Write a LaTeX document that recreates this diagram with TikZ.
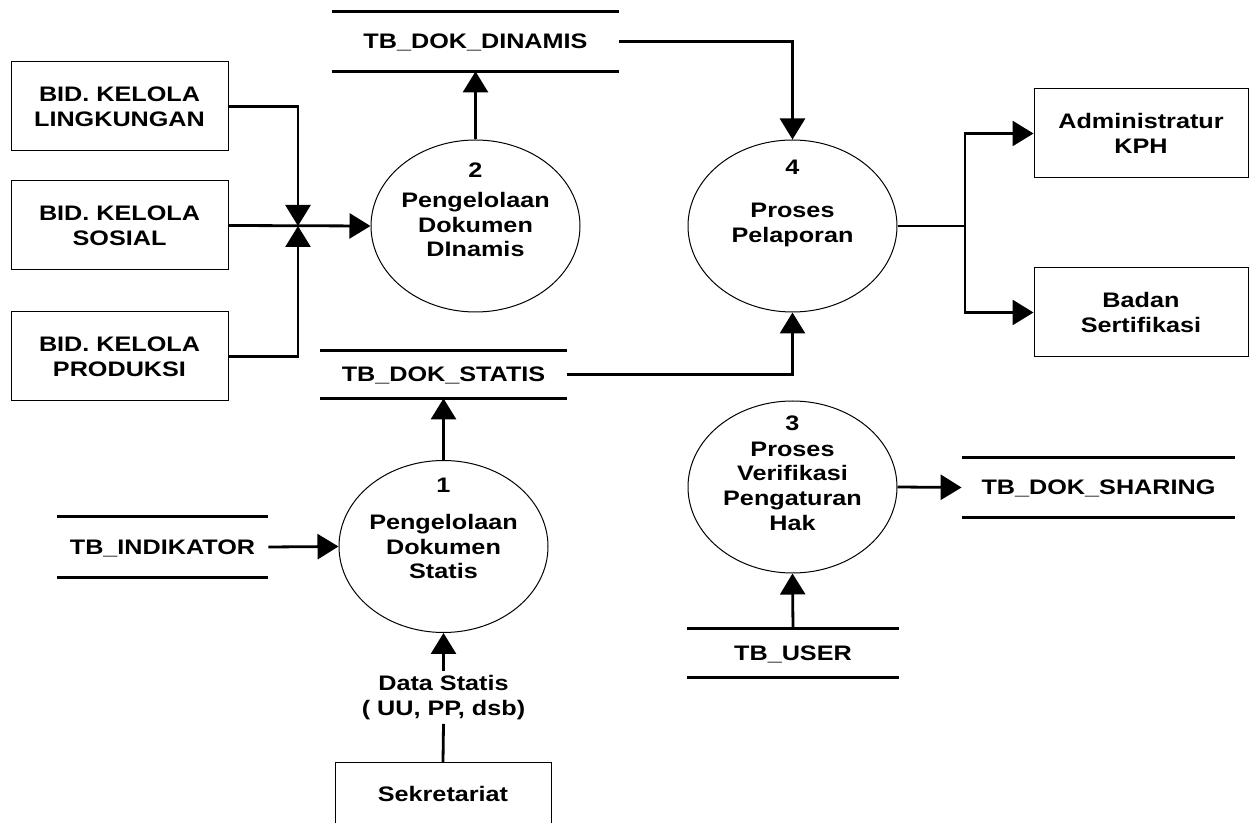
\documentclass[tikz,border=0pt]{standalone}
\usepackage{fontspec}
\setmainfont{Liberation Sans}[FakeStretch=1.2]
\usetikzlibrary{shapes.geometric,arrows.meta}
\begin{document}
\begin{tikzpicture}[x=0.5pt,y=-0.5pt,
  txt/.style={font=\fontsize{10.5}{12.3}\selectfont\bfseries, align=center, inner sep=0pt},
  ent/.style={txt, draw, line width=0.5pt, minimum width=108.5pt, minimum height=44.5pt},
  proc/.style={ellipse, draw, line width=0.5pt, minimum width=104.5pt, minimum height=86pt, inner sep=0pt},
  datastore/.style={txt, text depth=0pt},
  flow/.style={line width=1.4pt, -{Triangle[length=10.5pt,width=12.5pt]}},
  plainflow/.style={line width=1.4pt},
  sline/.style={line width=1.2pt}]
\useasboundingbox (0,0) rectangle (1250,823);

% external entities
\node[ent] (bl) at (119.5,106.5) {BID. KELOLA\\LINGKUNGAN};
\node[ent] (bs) at (119.5,225.5) {BID. KELOLA\\SOSIAL};
\node[ent] (bp) at (119.5,356.5) {BID. KELOLA\\PRODUKSI};
\node[ent, minimum width=107pt] (adm) at (1141,133.5) {Administratur\\KPH};
\node[ent, minimum width=107pt] (bad) at (1141,312.5) {Badan\\Sertifikasi};
\node[ent, minimum width=108pt, minimum height=31pt] (sek) at (443,793.5) {Sekretariat};

% processes
\node[proc] (c2) at (475.5,226) {};
\node[proc] (c4) at (792.5,226) {};
\node[proc] (c1) at (443.5,546.5) {};
\node[proc] (c3) at (792.5,487) {};
\node[txt] (n2) at (475.5,170) {2};
\node[txt] (l2) at (475.5,224.5) {Pengelolaan\\Dokumen\\DInamis};
\node[txt] (n4) at (792.5,167) {4};
\node[txt] (l4) at (792.5,225) {Proses\\Pelaporan};
\node[txt] (n1) at (443.5,485) {1};
\node[txt] (l1) at (443.5,546.5) {Pengelolaan\\Dokumen\\Statis};
\node[txt] (n3) at (792.5,423) {3};
\node[txt] (l3) at (792.5,486) {Proses\\Verifikasi\\Pengaturan\\Hak};

% data stores
\node[datastore, minimum width=143.5pt, minimum height=29.5pt] (dd) at (475.5,41.5) {TB\_DOK\_DINAMIS};
\node[datastore, minimum width=123.5pt, minimum height=23.5pt] (ds) at (443.5,374.5) {TB\_DOK\_STATIS};
\node[datastore, minimum width=105.5pt, minimum height=30pt] (ti) at (162.5,547) {TB\_INDIKATOR};
\node[datastore, minimum width=136.5pt, minimum height=29.5pt] (dsh) at (1098.5,487.5) {TB\_DOK\_SHARING};
\node[datastore, minimum width=106pt, minimum height=24pt] (tu) at (793,653) {TB\_USER};
\foreach \s in {dd,ds,ti,dsh,tu}
  \draw[sline] (\s.north west) -- (\s.north east) (\s.south west) -- (\s.south east);

% flow label
\node[txt, inner sep=2pt] (dsl) at (443.5,697.5) {Data Statis\\( UU, PP, dsb)};

% junctions
\coordinate (J) at (298,226);
\coordinate (K) at (965,226);

% flows
\draw[flow] (bl.east) -| (J);
\draw[flow] (bp.east) -| (J);
\draw[flow] (bs.east) -- (c2.west);
\draw[flow] (c2.north) -- (dd.south);
\draw[flow] (dd.east) -| (c4.north);
\draw[flow] (ds.east) -| (c4.south);
\draw[plainflow] (c4.east) -- (K);
\draw[flow] (K) |- (adm.west);
\draw[flow] (K) |- (bad.west);
\draw[flow] (c1.north) -- (ds.south);
\draw[flow] (ti.east) -- (c1.west);
\draw[plainflow] (sek.north) -- (dsl.south);
\draw[flow] (dsl.north) -- (c1.south);
\draw[flow] (tu.north) -- (c3.south);
\draw[flow] (c3.east) -- (dsh.west);
\end{tikzpicture}
\end{document}
